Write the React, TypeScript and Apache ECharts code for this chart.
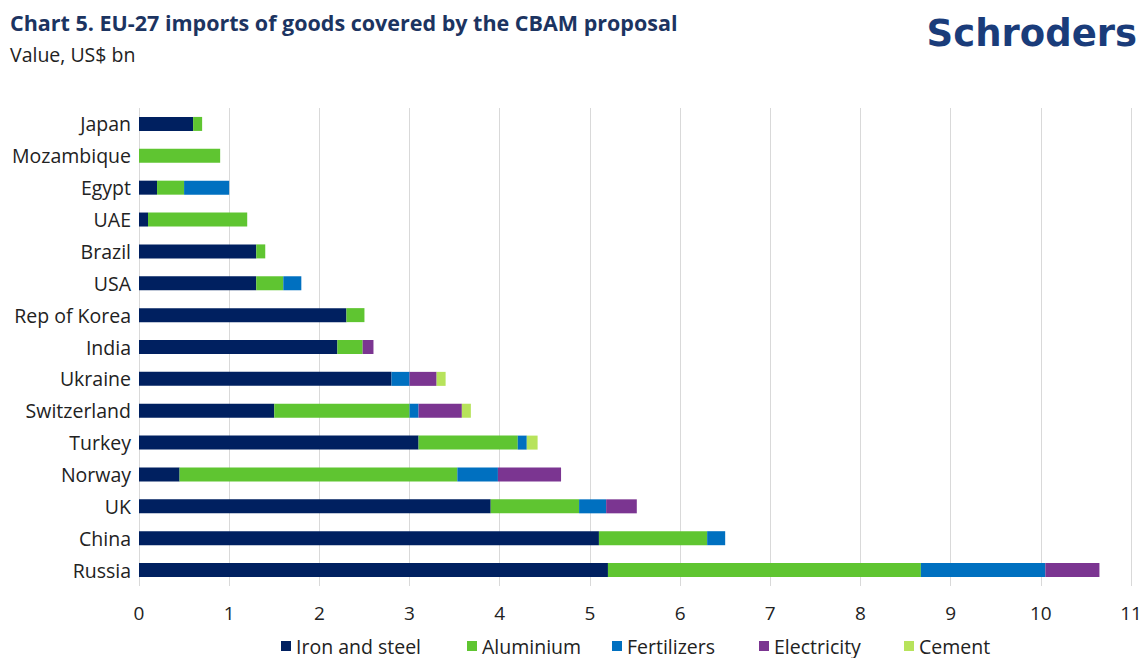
import React, { useEffect, useRef } from "react";
import * as echarts from "echarts";

const countries = ["Japan", "Mozambique", "Egypt", "UAE", "Brazil", "USA", "Rep of Korea", "India", "Ukraine", "Switzerland", "Turkey", "Norway", "UK", "China", "Russia"];
const ironSteel = [0.6, 0, 0.2, 0.1, 1.3, 1.3, 2.3, 2.2, 2.8, 1.5, 3.1, 0.45, 3.9, 5.1, 5.2];
const aluminium = [0.1, 0.9, 0.3, 1.1, 0.1, 0.3, 0.2, 0.28, 0, 1.5, 1.1, 3.08, 0.98, 1.2, 3.47];
const fertilizers = [0, 0, 0.5, 0, 0, 0.2, 0, 0, 0.2, 0.1, 0.1, 0.45, 0.3, 0.2, 1.38];
const electricity = [0, 0, 0, 0, 0, 0, 0, 0.12, 0.3, 0.48, 0, 0.7, 0.34, 0, 0.6];
const cement = [0, 0, 0, 0, 0, 0, 0, 0, 0.1, 0.1, 0.12, 0, 0, 0, 0];

const seriesNames = ["Iron and steel", "Aluminium", "Fertilizers", "Electricity", "Cement"];
const seriesData = [ironSteel, aluminium, fertilizers, electricity, cement];
const seriesColors = ["#002060", "#5fc531", "#0070c0", "#7b3591", "#b7e35b"];
const legendLefts = [281, 467, 612, 759, 904];

const FONT = "'Open Sans', 'Noto Sans', sans-serif";

export default function App() {
  const ref = useRef<HTMLDivElement>(null);
  useEffect(() => {
    document.body.style.margin = "0";
    const chart = echarts.init(ref.current!, null, { renderer: "svg" });
    chart.setOption({
      animation: false,
      backgroundColor: "#ffffff",
      textStyle: { fontFamily: FONT },
      graphic: [
        {
          type: "text",
          left: 10,
          top: 11,
          style: {
            text: "Chart 5. EU-27 imports of goods covered by the CBAM proposal",
            fontFamily: FONT,
            fontSize: 21.5,
            fontWeight: "bold",
            fill: "#1c3461",
          },
        },
        {
          type: "text",
          left: 10,
          top: 44,
          style: {
            text: "Value, US$ bn",
            fontFamily: FONT,
            fontSize: 19.5,
            fill: "#222222",
          },
        },
        {
          type: "text",
          right: 8,
          top: 15,
          style: {
            text: "Schroders",
            fontFamily: "'DejaVu Sans', sans-serif",
            fontSize: 37,
            fontWeight: "bold",
            fill: "#1a3c7a",
          },
        },
      ],
      legend: seriesNames.map((name, i) => ({
        left: legendLefts[i],
        top: 636,
        padding: 0,
        icon: "rect",
        itemWidth: 10,
        itemHeight: 10,
        textStyle: { fontSize: 19.5, color: "#222222", fontFamily: FONT },
        data: [name],
      })),
      grid: { left: 139, right: 14, top: 108, bottom: 72, containLabel: false },
      xAxis: {
        type: "value",
        min: 0,
        max: 11,
        interval: 1,
        axisLine: { show: false },
        axisTick: { show: false },
        axisLabel: { fontSize: 19, color: "#222222", margin: 17, fontFamily: FONT },
        splitLine: { show: true, lineStyle: { color: "#d9d9d9", width: 1 } },
      },
      yAxis: {
        type: "category",
        inverse: true,
        data: countries,
        axisLine: { show: false },
        axisTick: { show: false },
        axisLabel: { fontSize: 19.5, color: "#222222", margin: 8, fontFamily: FONT },
      },
      series: seriesNames.map((name, i) => ({
        name,
        type: "bar",
        stack: "total",
        barWidth: 14,
        itemStyle: { color: seriesColors[i] },
        data: seriesData[i],
      })),
    });
    return () => chart.dispose();
  }, []);
  return <div ref={ref} style={{ width: 1145, height: 658 }} />;
}
